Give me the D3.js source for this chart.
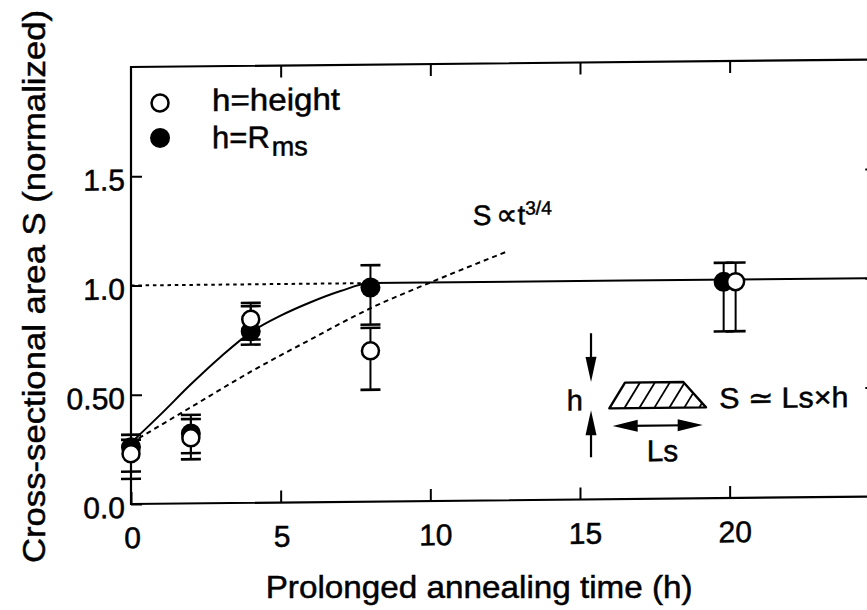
<!DOCTYPE html>
<html>
<head>
<meta charset="utf-8">
<script src="https://cdn.jsdelivr.net/npm/d3@7/dist/d3.min.js"></script>
<style>
html, body { margin: 0; padding: 0; background: #fff; }
svg { display: block; }
svg text { fill: #000; stroke: #000; stroke-width: 0.5px; }
</style>
</head>
<body>
<div id="chart"></div>
<script>
// Axis ticks
const timeTicks = [0, 5, 10, 15, 20];
const sTicks = [0, 0.5, 1.0, 1.5];
const sTickLabels = ["0.0", "0.50", "1.0", "1.5"];

// h = height (open circles)
const heightTime = [0, 2, 4, 8, 20.2];
const heightS  = [0.23, 0.30, 0.84, 0.69, 0.99];
const heightLo = [0.148, 0.202, 0.747, 0.512, 0.763];
const heightHi = [0.317, 0.386, 0.915, 0.795, 1.077];

// h = Rms (filled circles)
const rmsTime = [0, 2, 4, 8, 19.8];
const rmsS  = [0.26, 0.32, 0.785, 0.98, 0.99];
const rmsLo = [0.115, 0.230, 0.724, 0.81, 0.763];
const rmsHi = [0.294, 0.405, 0.900, 1.082, 1.077];

// guide through the data, saturating at S = 1
const guideTime = [0, 1, 2, 3, 4, 5, 6, 7, 8, 25];
const guideS    = [0.28, 0.41, 0.545, 0.67, 0.78, 0.855, 0.915, 0.965, 1.0, 1.0];

// S ∝ t^(3/4) curve
const powerTime = [0, 1, 2, 4, 6, 8, 10, 12.5];
const powerS    = [0.28, 0.36, 0.44, 0.60, 0.745, 0.885, 1.0, 1.135];

// dotted level at S = 1
const levelTime = [0, 8];
const levelS    = [1.0, 1.0];

const FONT = "'Liberation Sans', Arial, Helvetica, sans-serif";
const W = 867, H = 610;
const SKEW = -0.57;          // slight tilt of the whole frame
const R_OPEN = 8.5, R_FILL = 10, CAP = 10;

const x = d3.scaleLinear().domain([0, 25]).range([131, 879.3]);
const y = d3.scaleLinear().domain([0, 2]).range([504, 67]);

const svg = d3.select("#chart").append("svg")
  .attr("width", W).attr("height", H)
  .style("font-family", FONT)
  .style("background", "#fff");

const plot = svg.append("g")
  .attr("transform", `translate(${x(0)},0) skewY(${SKEW}) translate(${-x(0)},0)`);

// frame
plot.append("rect")
  .attr("x", x(0)).attr("y", y(2))
  .attr("width", x(25) - x(0)).attr("height", y(0) - y(2))
  .attr("fill", "none").attr("stroke", "#000").attr("stroke-width", 2.2);

function styleAxis(g) {
  g.select(".domain").remove();
  g.attr("font-family", null).attr("font-size", null);
  g.selectAll(".tick line").attr("stroke", "#000").attr("stroke-width", 2);
  g.selectAll(".tick text").attr("font-family", FONT).attr("font-size", 30);
  return g;
}

// bottom axis, ticks pointing inward
const gBottom = plot.append("g")
  .attr("transform", `translate(0,${y(0)})`)
  .call(d3.axisBottom(x).tickValues(timeTicks).tickSizeInner(-12).tickSizeOuter(0).tickPadding(23));
styleAxis(gBottom);
gBottom.selectAll(".tick text").attr("dx", d => d >= 10 ? 5 : 1);

// top axis
const gTop = plot.append("g")
  .attr("transform", `translate(0,${y(2)})`)
  .call(d3.axisTop(x).tickValues(timeTicks.slice(1)).tickSizeInner(-12).tickSizeOuter(0).tickFormat(""));
styleAxis(gTop);

// left axis
const gLeft = plot.append("g")
  .attr("transform", `translate(${x(0)},0)`)
  .call(d3.axisLeft(y).tickValues(sTicks).tickSizeInner(-11).tickSizeOuter(0).tickPadding(6)
    .tickFormat((d, i) => sTickLabels[i]));
styleAxis(gLeft);
gLeft.selectAll(".tick text").attr("dy", "0.45em");

// right axis
const gRight = plot.append("g")
  .attr("transform", `translate(${x(25)},0)`)
  .call(d3.axisRight(y).tickValues(sTicks.slice(1)).tickSizeInner(-14).tickSizeOuter(0).tickFormat(""));
styleAxis(gRight);

// lines
const zip = (a, b) => a.map((v, i) => [v, b[i]]);
const line = d3.line().x(d => x(d[0])).y(d => y(d[1]));

plot.append("path")
  .attr("d", line(zip(levelTime, levelS)))
  .attr("fill", "none").attr("stroke", "#000").attr("stroke-width", 2)
  .attr("stroke-dasharray", "3.5,3.8");

plot.append("path")
  .attr("d", line.curve(d3.curveMonotoneX)(zip(powerTime, powerS)))
  .attr("fill", "none").attr("stroke", "#000").attr("stroke-width", 2)
  .attr("stroke-dasharray", "5,4");

plot.append("path")
  .attr("d", line.curve(d3.curveMonotoneX)(zip(guideTime, guideS)))
  .attr("fill", "none").attr("stroke", "#000").attr("stroke-width", 2);

// points with error bars
const rows = (t, s, lo, hi) => t.map((v, i) => ({ t: v, s: s[i], lo: lo[i], hi: hi[i] }));
const heightRows = rows(heightTime, heightS, heightLo, heightHi);
const rmsRows = rows(rmsTime, rmsS, rmsLo, rmsHi);

function errorBars(data) {
  const g = plot.append("g").attr("stroke", "#000");
  g.selectAll("line.v").data(data).join("line").attr("class", "v")
    .attr("x1", d => x(d.t)).attr("x2", d => x(d.t))
    .attr("y1", d => y(d.lo)).attr("y2", d => y(d.hi))
    .attr("stroke-width", 2);
  ["lo", "hi"].forEach(k => {
    g.selectAll("line." + k).data(data).join("line").attr("class", k)
      .attr("x1", d => x(d.t) - CAP).attr("x2", d => x(d.t) + CAP)
      .attr("y1", d => y(d[k])).attr("y2", d => y(d[k]))
      .attr("stroke-width", 2.6);
  });
}
errorBars(rmsRows);
errorBars(heightRows);

plot.append("g").selectAll("circle").data(rmsRows).join("circle")
  .attr("cx", d => x(d.t)).attr("cy", d => y(d.s)).attr("r", R_FILL)
  .attr("fill", "#000");

plot.append("g").selectAll("circle").data(heightRows).join("circle")
  .attr("cx", d => x(d.t)).attr("cy", d => y(d.s)).attr("r", R_OPEN)
  .attr("fill", "#fff").attr("stroke", "#000").attr("stroke-width", 2.5);

// legend
const legend = plot.append("g").attr("transform", `translate(${x(0.97)},0)`);
legend.append("circle").attr("cx", 0).attr("cy", y(1.834)).attr("r", R_OPEN)
  .attr("fill", "#fff").attr("stroke", "#000").attr("stroke-width", 2.5);
legend.append("circle").attr("cx", 0).attr("cy", y(1.674)).attr("r", R_FILL).attr("fill", "#000");
legend.append("text").attr("x", 52).attr("y", y(1.795))
  .attr("font-size", 31).attr("textLength", 128).attr("lengthAdjust", "spacingAndGlyphs")
  .text("h=height");
const rmsLabel = legend.append("text").attr("x", 52).attr("y", y(1.624)).attr("font-size", 31);
rmsLabel.append("tspan").text("h=R");
rmsLabel.append("tspan").attr("dx", 2).attr("dy", 8).attr("font-size", 27).text("ms");

// power-law label
const pl = plot.append("text").attr("x", x(11.42)).attr("y", y(1.261)).attr("font-size", 28);
pl.append("tspan").text("S");
pl.append("tspan").attr("dx", 4).attr("font-size", 30).text("\u221D");
pl.append("tspan").attr("dx", 1).text("t");
pl.append("tspan").attr("dy", -10).attr("font-size", 19).text("3/4");

// cross-section sketch
const sk = plot.append("g").attr("transform", `translate(${x(15.98)},${y(0.416)})`);
const trap = [[0, 0], [96.7, 0], [74, -25.6], [15.7, -25.6]];
sk.append("clipPath").attr("id", "trapClip")
  .append("polygon").attr("points", trap.map(p => p.join(",")).join(" "));
const hatch = sk.append("g").attr("clip-path", "url(#trapClip)");
d3.range(1, 7).forEach(i => {
  hatch.append("line")
    .attr("x1", 15 * i).attr("y1", 0).attr("x2", 15 * i + 15.7).attr("y2", -25.6)
    .attr("stroke", "#000").attr("stroke-width", 1.8);
});
sk.append("polygon").attr("points", trap.map(p => p.join(",")).join(" "))
  .attr("fill", "none").attr("stroke", "#000").attr("stroke-width", 2.4).attr("stroke-linejoin", "round");

function arrowHead(g, tipX, tipY, dx, dy, len, half) {
  // dx,dy: unit direction the arrow points to
  const bx = tipX - dx * len, by = tipY - dy * len;
  const px = -dy * half, py = dx * half;
  g.append("polygon")
    .attr("points", `${tipX},${tipY} ${bx + px},${by + py} ${bx - px},${by - py}`)
    .attr("fill", "#000");
}
// vertical arrows for h
sk.append("line").attr("x1", -18.3).attr("x2", -18.3).attr("y1", -75.3).attr("y2", -40)
  .attr("stroke", "#000").attr("stroke-width", 2.2);
arrowHead(sk, -18.3, -26.6, 0, 1, 25, 5.5);
sk.append("line").attr("x1", -18.3).attr("x2", -18.3).attr("y1", 48.7).attr("y2", 15)
  .attr("stroke", "#000").attr("stroke-width", 2.2);
arrowHead(sk, -18.3, 1.7, 0, -1, 25, 5.5);
// horizontal double arrow for Ls
sk.append("line").attr("x1", 20).attr("x2", 78).attr("y1", 17.7).attr("y2", 17.7)
  .attr("stroke", "#000").attr("stroke-width", 2.2);
arrowHead(sk, 3.4, 17.7, -1, 0, 25, 6);
arrowHead(sk, 93.4, 17.7, 1, 0, 25, 6);

sk.append("text").attr("x", -42.6).attr("y", 1.7).attr("font-size", 29).text("h");
sk.append("text").attr("x", 37.4).attr("y", 53.4).attr("font-size", 30)
  .attr("textLength", 31.6).attr("lengthAdjust", "spacingAndGlyphs").text("Ls");
sk.append("text").attr("x", 110).attr("y", 1).attr("font-size", 29)
  .attr("textLength", 129).attr("lengthAdjust", "spacingAndGlyphs").text("S \u2243 Ls\u00D7h");

// axis titles
svg.append("text")
  .attr("x", 265.7).attr("y", 598)
  .attr("font-size", 32).attr("textLength", 427).attr("lengthAdjust", "spacingAndGlyphs")
  .text("Prolonged annealing time (h)");

svg.append("text")
  .attr("transform", "translate(45,286.5) rotate(-90)")
  .attr("text-anchor", "middle")
  .attr("font-size", 31).attr("textLength", 553).attr("lengthAdjust", "spacingAndGlyphs")
  .text("Cross-sectional area S (normalized)");
</script>
</body>
</html>
